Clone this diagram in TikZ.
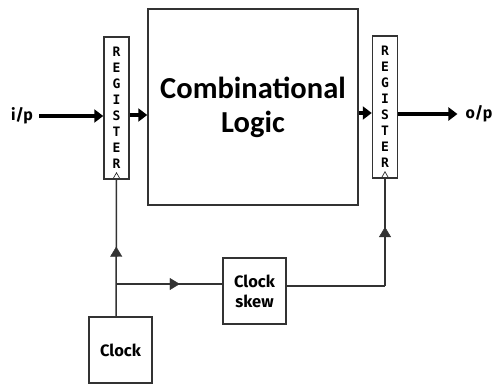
\documentclass[tikz,border=0pt]{standalone}
\usepackage{fontspec}
\setmainfont{Carlito}
\newfontfamily\regfont{DejaVu Sans Mono}
\newfontfamily\lblfont{Fira Sans}
\usetikzlibrary{arrows.meta,decorations.markings}
\definecolor{ln}{HTML}{333333}
\tikzset{
  box/.style={draw=ln,line width=1.5pt,fill=white,inner sep=0pt},
  regbox/.style={box,minimum width=25pt,minimum height=142pt,align=center},
  data/.style={line width=4pt,-{Triangle[length=9pt,width=13pt]}},
  clk/.style={draw=ln,line width=1.5pt},
  midarrow/.style={postaction={decorate},decoration={markings,mark=at position #1 with {\arrow[line width=0.4pt]{Triangle[length=10pt,width=12pt]}}}},
  lbl/.style={font=\lblfont\bfseries\fontsize{16}{18}\selectfont,inner sep=0pt},
  clkfont/.style={font=\lblfont\bfseries\fontsize{16.5}{20}\selectfont}
}
\newcommand{\regtext}{\regfont\bfseries\fontsize{13}{16}\selectfont}
\begin{document}
\begin{tikzpicture}[x=1pt,y=-1pt]
\useasboundingbox (0,0) rectangle (498,386);
\node[regbox,font=\regtext] (regL) at (116.5,108) {R\\E\\G\\I\\S\\T\\E\\R};
\node[box,minimum width=210pt,minimum height=196pt,font=\bfseries\fontsize{30.5}{34}\selectfont,align=center] (comb) at (253,107) {Combinational\\Logic};
\node[regbox,font=\regtext] (regR) at (385,107) {R\\E\\G\\I\\S\\T\\E\\R};
\node[box,minimum width=63pt,minimum height=66pt,clkfont] (clock) at (120.5,350) {Clock};
\node[box,minimum width=63pt,minimum height=66pt,clkfont,align=center] (skew) at (254.5,291) {Clock\\skew};
\node[lbl] (ip) at (22,116) {i/p};
\node[lbl] (op) at (479,114) {o/p};
% data arrows
\draw[data] (ip.east) ++(6,0) coordinate (ipa) -- (regL.west |- ipa);
\draw[data] (regL.east |- 0,115) -- (comb.west |- 0,115);
\draw[data] (comb.east |- 0,113) -- (regR.west |- 0,113);
\draw[data] (regR.east |- op.west) -- ([xshift=-8pt]op.west);
% clock triangles
\foreach \r in {regL,regR}{
  \draw[ln,line width=0.7pt] ([xshift=-4pt]\r.south) -- ([yshift=7pt]\r.south) -- ([xshift=4pt]\r.south);
}
% clock lines
\coordinate (j) at (116,284);
\coordinate (k) at (385,286);
\draw[clk,midarrow=0.51] (j |- clock.north) -- (regL.south);
\draw[clk,midarrow=0.6] (j) -- (skew.west |- j);
\draw[clk] (skew.east |- k) -- (k);
\draw[clk,midarrow=0.55] (k) -- (regR.south);
\end{tikzpicture}
\end{document}
